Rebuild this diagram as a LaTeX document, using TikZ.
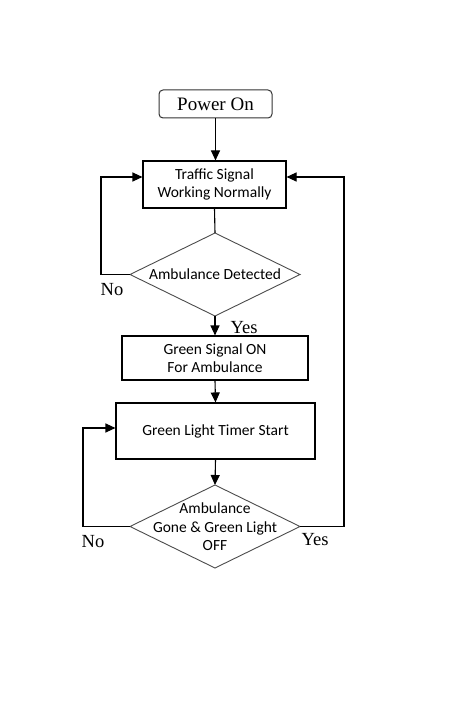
\documentclass[tikz,border=0pt]{standalone}
\usepackage{fontspec}
\setmainfont{Carlito}
\newfontfamily\serifx{Liberation Serif}
\usetikzlibrary{arrows.meta,shapes.geometric}
\begin{document}
\begin{tikzpicture}[x=1pt,y=-1pt,
  boxstyle/.style={draw=black,line width=1.1pt,rectangle,inner sep=0pt,align=center,font=\fontsize{15.5}{18.5}\selectfont},
  dectext/.style={inner sep=0pt,align=center,font=\fontsize{15.5}{18.5}\selectfont},
  decline/.style={draw=black!70,line width=0.9pt},
  conn/.style={line width=1.1pt},
  arr/.style={conn,-{Triangle[length=10pt,width=9pt]}},
  lbl/.style={font=\serifx\fontsize{18.5}{20}\selectfont,inner sep=0pt}]
\useasboundingbox[fill=white] (0,0) rectangle (454,708);
\node[draw=black!80,line width=1pt,rounded corners=4pt,minimum width=113pt,minimum height=28pt,inner sep=0pt,font=\serifx\fontsize{19}{21}\selectfont] (pw) at (215.5,104) {Power On};
\node[boxstyle,minimum width=143pt,minimum height=47pt] (ts) at (214.5,184.5) {Traffic Signal\\Working Normally};
% diamond 1
\coordinate (d1n) at (215,233);
\coordinate (d1s) at (215,316);
\coordinate (d1w) at (130,274.5);
\coordinate (d1e) at (300,274.5);
\draw[decline] (d1n) -- (d1e) -- (d1s) -- (d1w) -- cycle;
\node[dectext] (d1) at (215,274.5) {Ambulance Detected};
\node[boxstyle,minimum width=186pt,minimum height=44pt] (gs) at (215,358) {Green Signal ON\\For Ambulance};
\node[boxstyle,minimum width=199pt,minimum height=56pt] (gt) at (215.5,431) {Green Light Timer Start};
% diamond 2
\coordinate (d2n) at (215,485);
\coordinate (d2s) at (215,568);
\coordinate (d2w) at (130,526.5);
\coordinate (d2e) at (300,526.5);
\draw[decline] (d2n) -- (d2e) -- (d2s) -- (d2w) -- cycle;
\node[dectext] (d2) at (215,527) {Ambulance\\Gone \& Green Light\\OFF};
\coordinate (a1) at (101,274.5);
\coordinate (a2) at (101,177);
\coordinate (b1) at (83,526.5);
\coordinate (b2) at (83,428);
\coordinate (c1) at (344,526.5);
\coordinate (c2) at (344,177);
\draw[arr] (pw.south) -- (pw.south |- ts.north);
\draw[conn] (ts.south) -- (d1n);
\draw[arr] (d1s) -- (gs.north);
\draw[arr] (gs.south) -- (gt.north);
\draw[arr] (gt.south) -- (d2n);
\draw[arr] (d1w) -- (a1) -- (a2) -- (a2 -| ts.west);
\draw[arr] (d2w) -- (b1) -- (b2) -- (b2 -| gt.west);
\draw[arr] (d2e) -- (c1) -- (c2) -- (c2 -| ts.east);
\node[lbl] (no1) at (112,290) {No};
\node[lbl] (yes1) at (244,328) {Yes};
\node[lbl] (no2) at (93,542) {No};
\node[lbl] (yes2) at (315,540) {Yes};
\end{tikzpicture}
\end{document}
